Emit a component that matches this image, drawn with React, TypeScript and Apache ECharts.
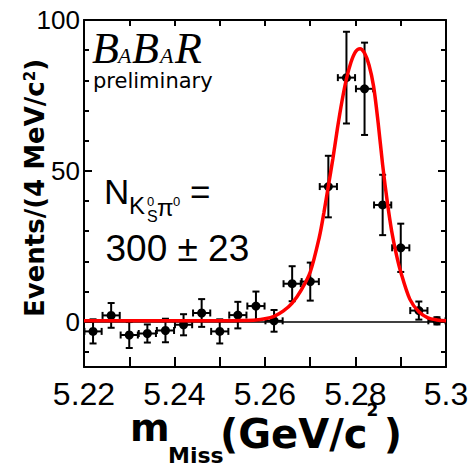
import React, { useEffect, useRef } from 'react';
import * as echarts from 'echarts';

// ---- data ----
const binCenters = [5.222, 5.226, 5.23, 5.234, 5.238, 5.242, 5.246, 5.25, 5.254, 5.258, 5.262, 5.266, 5.27, 5.274, 5.278, 5.282, 5.286, 5.29, 5.294, 5.298];
const counts = [-3.2, 2.1, -4.4, -3.9, -2.9, -1.0, 2.9, -3.2, 2.2, 5.2, 0.3, 12.6, 13.3, 44.8, 80.9, 77.2, 38.7, 24.5, 3.7, 0.3];
const errors = [4.0, 4.1, 4.3, 3.0, 3.9, 3.5, 4.6, 4.0, 4.4, 4.8, 3.6, 5.8, 6.3, 10.2, 15.2, 15.3, 10.0, 8.0, 3.0, 1.2];
const binHalfWidth = 0.0019;

const curveX = [5.22, 5.23, 5.24, 5.25, 5.255, 5.258, 5.26, 5.262, 5.264, 5.266, 5.268, 5.27, 5.272, 5.273, 5.274, 5.275, 5.276, 5.277, 5.278, 5.279, 5.28, 5.281, 5.282, 5.283, 5.284, 5.285, 5.286, 5.287, 5.288, 5.289, 5.29, 5.292, 5.294, 5.296, 5.298, 5.3];
const curveY = [0.3, 0.3, 0.3, 0.3, 0.4, 0.6, 1.0, 1.8, 3.5, 6.2, 10.5, 16.5, 28, 36, 45, 54, 64, 73, 80.5, 86, 89.5, 90.5, 89, 85, 78, 66, 52, 40, 30, 22.5, 16.5, 7.5, 3.3, 1.3, 0.6, 0.3];

const xTickValues = [5.22, 5.24, 5.26, 5.28, 5.3];
const xTickLabels = ['5.22', '5.24', '5.26', '5.28', '5.3'];
const yLabelValues = [0, 50, 100];
const yLabelTexts = ['0', '50', '100'];
const yMinorValues = [-10, 10, 20, 30, 40, 60, 70, 80, 90];
const X_MIN = 5.22;
const X_MAX = 5.3;
const Y_MIN = -15;
const Y_MAX = 100;

const BLACK = '#000';
const SANS = '"Liberation Sans", Arial, sans-serif';
const DEJA = '"DejaVu Sans", sans-serif';
const SERIF = '"Liberation Serif", "Times New Roman", serif';

function measure(text: string, font: string): number {
  const c = document.createElement('canvas');
  const ctx = c.getContext('2d');
  if (!ctx) return text.length * 20;
  ctx.font = font;
  return ctx.measureText(text).width;
}

function txt(text: string, x: number, y: number, font: string, extra: any = {}) {
  return {
    type: 'text',
    x,
    y,
    silent: true,
    style: {
      text,
      font,
      fill: BLACK,
      align: 'left',
      textAlign: 'left',
      verticalAlign: 'middle',
      textVerticalAlign: 'middle',
      ...extra,
    },
  };
}

export default function App() {
  const ref = useRef<HTMLDivElement>(null);

  useEffect(() => {
    if (!ref.current) return;
    const chart = echarts.init(ref.current, null, { renderer: 'svg' });

    const gridBox = { left: 84, right: 26, top: 20, bottom: 100, containLabel: false };
    const lineSt = { color: BLACK, width: 2 };

    const pointData = binCenters.map((x, i) => [x, counts[i], errors[i]]);
    const curveData = curveX.map((x, i) => [x, curveY[i]]);

    // x-axis title pieces laid out left to right
    const fMain = `bold 40px ${DEJA}`;
    const fSup = `bold 17px ${DEJA}`;
    const parX = 220;
    const wPar = measure('(GeV/c', fMain);
    const supX = parX + wPar - 1;
    const closeX = supX + measure('2', fSup) + 5.5;

    const option: any = {
      animation: false,
      backgroundColor: '#fff',
      grid: [gridBox, gridBox],
      xAxis: [
        {
          type: 'value', gridIndex: 0, position: 'bottom', min: X_MIN, max: X_MAX, interval: 0.02,
          axisLine: { show: true, onZero: false, lineStyle: lineSt },
          axisTick: { show: true, inside: true, length: 10, lineStyle: lineSt },
          minorTick: { show: true, splitNumber: 2, length: 10, lineStyle: lineSt },
          splitLine: { show: false }, minorSplitLine: { show: false },
          axisLabel: {
            show: true, customValues: xTickValues, margin: 11,
            fontFamily: SANS, fontSize: 32, color: BLACK,
            formatter: (v: number) => {
              const i = xTickValues.findIndex((t) => Math.abs(t - v) < 1e-6);
              return i >= 0 ? xTickLabels[i] : '';
            },
          },
        },
        {
          type: 'value', gridIndex: 0, position: 'top', min: X_MIN, max: X_MAX, interval: 0.02,
          axisLine: { show: true, onZero: false, lineStyle: lineSt },
          axisTick: { show: true, inside: true, length: 6, lineStyle: lineSt },
          minorTick: { show: true, splitNumber: 2, length: 6, lineStyle: lineSt },
          splitLine: { show: false }, minorSplitLine: { show: false },
          axisLabel: { show: false },
        },
        {
          type: 'value', gridIndex: 1, position: 'bottom', min: X_MIN, max: X_MAX, show: false,
        },
      ],
      yAxis: [
        {
          type: 'value', gridIndex: 0, position: 'left', min: Y_MIN, max: Y_MAX,
          axisLine: { show: true, onZero: false, lineStyle: lineSt },
          axisTick: { show: true, inside: true, length: 8, customValues: yLabelValues, lineStyle: lineSt },
          splitLine: { show: false },
          axisLabel: {
            show: true, customValues: yLabelValues, margin: 4,
            fontFamily: SANS, fontSize: 26, color: BLACK,
            formatter: (v: number) => {
              const i = yLabelValues.indexOf(Math.round(v));
              return i >= 0 ? yLabelTexts[i] : '';
            },
          },
        },
        {
          type: 'value', gridIndex: 0, position: 'right', min: Y_MIN, max: Y_MAX,
          axisLine: { show: true, onZero: false, lineStyle: lineSt },
          axisTick: { show: true, inside: true, length: 8, customValues: yLabelValues, lineStyle: lineSt },
          splitLine: { show: false },
          axisLabel: { show: false },
        },
        {
          type: 'value', gridIndex: 1, position: 'left', min: Y_MIN, max: Y_MAX,
          axisLine: { show: false },
          axisTick: { show: true, inside: true, length: 5, customValues: yMinorValues, lineStyle: lineSt },
          splitLine: { show: false },
          axisLabel: { show: false },
        },
        {
          type: 'value', gridIndex: 1, position: 'right', min: Y_MIN, max: Y_MAX,
          axisLine: { show: false },
          axisTick: { show: true, inside: true, length: 5, customValues: yMinorValues, lineStyle: lineSt },
          splitLine: { show: false },
          axisLabel: { show: false },
        },
      ],
      series: [
        {
          type: 'custom',
          name: 'data',
          xAxisIndex: 0,
          yAxisIndex: 0,
          z: 3,
          data: pointData,
          renderItem: (params: any, api: any) => {
            const x = api.value(0);
            const y = api.value(1);
            const e = api.value(2);
            const c = api.coord([x, y]);
            const t = api.coord([x, y + e]);
            const b = api.coord([x, y - e]);
            const l = api.coord([x - binHalfWidth, y]);
            const r = api.coord([x + binHalfWidth, y]);
            const cap = 3.5;
            const st = { stroke: BLACK, lineWidth: 2 };
            return {
              type: 'group',
              children: [
                { type: 'line', shape: { x1: c[0], y1: t[1], x2: c[0], y2: b[1] }, style: st },
                { type: 'line', shape: { x1: c[0] - cap, y1: t[1], x2: c[0] + cap, y2: t[1] }, style: st },
                { type: 'line', shape: { x1: c[0] - cap, y1: b[1], x2: c[0] + cap, y2: b[1] }, style: st },
                { type: 'line', shape: { x1: l[0], y1: c[1], x2: r[0], y2: c[1] }, style: st },
                { type: 'line', shape: { x1: l[0], y1: c[1] - cap, x2: l[0], y2: c[1] + cap }, style: st },
                { type: 'line', shape: { x1: r[0], y1: c[1] - cap, x2: r[0], y2: c[1] + cap }, style: st },
                { type: 'circle', shape: { cx: c[0], cy: c[1], r: 4.5 }, style: { fill: BLACK } },
              ],
            };
          },
        },
        {
          type: 'line',
          name: 'fit',
          xAxisIndex: 0,
          yAxisIndex: 0,
          z: 5,
          data: curveData,
          smooth: 0.3,
          showSymbol: false,
          symbol: 'none',
          lineStyle: { color: '#ff0000', width: 3.5 },
          markLine: {
            silent: true,
            z: 1,
            symbol: ['none', 'none'],
            label: { show: false },
            lineStyle: { color: BLACK, width: 1.5, type: 'solid' },
            data: [{ yAxis: 0 }],
          },
        },
      ],
      graphic: [
        // BaBar logo
        txt('B', 92, 48.6, `italic 44px ${SERIF}`),
        txt('A', 118, 55, `italic 22px ${SERIF}`),
        txt('B', 132, 48.6, `italic 44px ${SERIF}`),
        txt('A', 160, 55, `italic 22px ${SERIF}`),
        txt('R', 175, 48.6, `italic 44px ${SERIF}`),
        txt('preliminary', 93, 81, `21px ${DEJA}`),
        // N_{K_S^0 pi^0} =
        txt('N', 104, 191, `35px ${SANS}`),
        txt('K', 129, 205, `24px ${SANS}`),
        txt('0', 147, 201, `13px ${SANS}`),
        txt('S', 147, 216.5, `16px ${SANS}`),
        txt('π', 157, 207.6, `24px ${SANS}`),
        txt('0', 173, 201, `13px ${SANS}`),
        txt('=', 190, 191, `35px ${SANS}`),
        txt('300 ± 23', 105.5, 248, `37px ${SANS}`),
        // x-axis title
        txt('m', 130, 428, `bold 38px ${DEJA}`),
        txt('Miss', 168, 455.5, `bold 22px ${DEJA}`),
        txt('(GeV/c', parX, 433.7, fMain),
        txt('2', supX, 410, fSup),
        txt(')', closeX, 433.7, fMain),
        // y-axis title
        {
          type: 'text',
          x: 35.3,
          y: 188,
          rotation: Math.PI / 2,
          silent: true,
          style: {
            text: '{a|Events/(4 MeV/c}{s|2}{a|)}',
            font: `bold 26px ${DEJA}`,
            fill: BLACK,
            align: 'center',
            textAlign: 'center',
            verticalAlign: 'middle',
            textVerticalAlign: 'middle',
            rich: {
              a: { font: `bold 26px ${DEJA}`, fill: BLACK, lineHeight: 26, verticalAlign: 'bottom' },
              s: { font: `bold 15px ${DEJA}`, fill: BLACK, lineHeight: 15, verticalAlign: 'top' },
            },
          },
        },
      ],
    };

    chart.setOption(option);
    return () => chart.dispose();
  }, []);

  return (
    <div
      ref={ref}
      style={{ position: 'absolute', left: 0, top: 0, width: 472, height: 467, background: '#fff' }}
    />
  );
}
